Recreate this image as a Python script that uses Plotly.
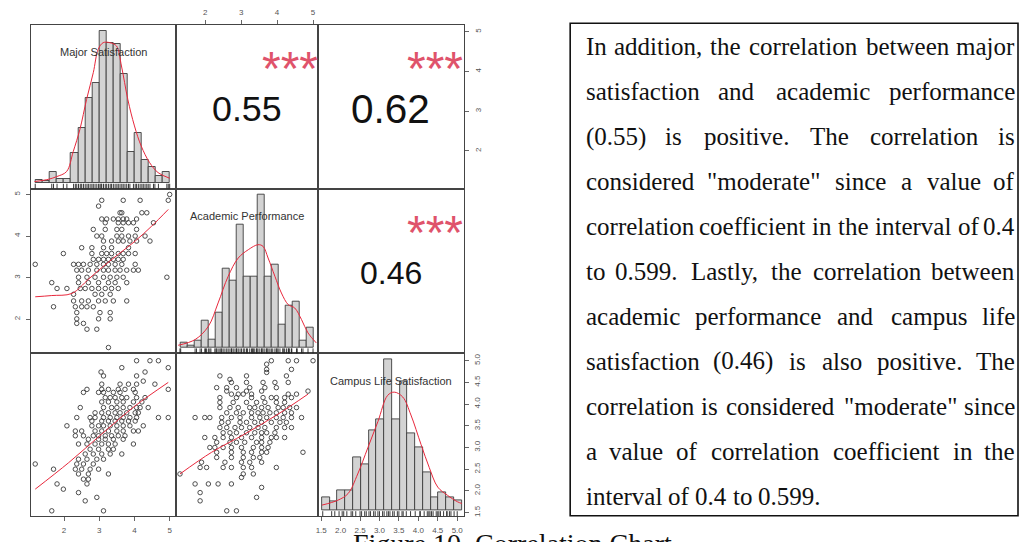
import plotly.graph_objects as go

# ---------------- data ----------------
var_names = ["Major Satisfaction", "Academic Performance", "Campus Life Satisfaction"]
var_ranges = [[1.05, 5.17], [1.18, 5.14], [1.42, 5.17]]

corr_values = [0.55, 0.62, 0.46]          # (MS,AP), (MS,CL), (AP,CL)
corr_signif = ["***", "***", "***"]
corr_font = [35.8, 40.5, 32.0]

# histogram heights (density, scaled) on equal-width bins
major_bin_start, major_bin_width = 1.2, 0.2
major_hist = [0.8, 0.6, 3.3, 1.1, 1.1, 9.0, 16.3, 25.3, 29.8, 45.5, 41.8, 41.6,
              32.6, 9.3, 14.8, 6.8, 4.8, 2.1, 3.3]
major_dens_x = [1.16, 1.56, 1.79, 2.07, 2.26, 2.45, 2.64, 2.83, 2.97, 3.11, 3.30,
                3.49, 3.63, 3.81, 4.00, 4.19, 4.43, 4.67, 5.00]
major_dens_y = [0.3, 1.0, 1.8, 3.3, 9.3, 16.0, 25.0, 33.0, 40.0, 42.0, 42.0,
                41.0, 35.0, 25.0, 17.0, 11.0, 6.0, 3.0, 1.3]

acad_bin_start, acad_bin_width = 1.32, 0.195
acad_hist = [1.3, 0.5, 2.1, 8.0, 2.3, 10.3, 23.5, 20.0, 36.8, 21.3, 21.3, 45.8,
             21.3, 24.8, 6.8, 12.5, 13.8, 2.1, 5.8]
acad_dens_x = [1.25, 1.72, 2.09, 2.36, 2.64, 2.92, 3.20, 3.47, 3.61, 3.75, 3.94,
               4.12, 4.31, 4.49, 4.68, 4.86, 5.09]
acad_dens_y = [0.6, 2.3, 6.3, 13.3, 21.3, 26.8, 29.3, 30.8, 30.3, 26.8, 21.3,
               16.3, 12.8, 11.8, 8.3, 4.3, 1.3]

campus_bin_start, campus_bin_width = 1.52, 0.2
campus_hist = [3.8, 2.8, 6.0, 6.0, 16.0, 13.8, 24.3, 27.8, 46.0, 27.8, 39.3,
               23.5, 19.0, 11.5, 4.0, 5.5, 3.8, 3.0]
campus_dens_x = [1.52, 1.93, 2.19, 2.44, 2.70, 2.96, 3.21, 3.38, 3.60, 3.81,
                 4.07, 4.28, 4.50, 4.75, 5.01, 5.12]
campus_dens_y = [1.5, 3.0, 5.0, 11.0, 19.0, 27.0, 35.0, 36.0, 34.5, 29.0, 20.0,
                 13.0, 7.0, 4.5, 2.5, 2.0]

# scatter points grouped by y value: (y, [x, ...])
ms_ap_rows = [  # x = Major Satisfaction, y = Academic Performance
    (5.00, [5.00]),
    (4.86, [3.07, 3.68, 4.16, 4.96]),
    (4.72, [2.98]),
    (4.56, [3.59, 3.64, 4.21, 4.35]),
    (4.41, [3.07, 3.21, 3.40, 3.54, 3.68, 3.78, 4.06]),
    (4.32, [3.17, 3.54, 3.68, 3.83, 3.97, 4.54]),
    (4.16, [2.83, 3.17, 3.50, 3.64, 4.06]),
    (4.00, [2.93, 3.07, 3.50, 3.64, 3.83, 4.02, 4.30]),
    (3.88, [3.12, 3.35, 3.54, 3.68, 3.87, 4.06, 4.44]),
    (3.72, [2.50, 2.79, 3.12, 3.35, 3.83]),
    (3.58, [1.98, 2.79, 3.07, 3.21, 3.35, 3.54, 3.68, 3.83, 4.02]),
    (3.44, [2.83, 2.98, 3.12, 3.26, 3.40, 3.54, 3.68]),
    (3.32, [1.18, 2.27, 2.41, 2.55, 2.74, 2.93, 3.12, 3.26, 3.45, 3.64, 4.02]),
    (3.18, [2.36, 2.50, 2.69, 2.93, 3.12, 3.26, 3.45, 3.59, 3.78, 3.97, 4.11]),
    (3.01, [2.41, 2.65, 2.88, 3.12, 3.31, 3.50, 3.68, 4.92]),
    (2.88, [1.65, 2.41, 2.69, 2.98, 3.26, 3.45, 3.78]),
    (2.74, [1.80, 2.08, 2.46, 2.60, 2.79, 2.98, 3.17, 3.35, 3.54]),
    (2.60, [2.27, 2.88, 3.07, 3.31]),
    (2.44, [2.27, 2.50, 2.69, 2.98, 3.17, 3.40, 3.78]),
    (2.30, [1.70, 2.32, 2.50, 2.65, 2.83]),
    (2.16, [2.36, 3.02, 3.31]),
    (2.01, [2.36, 2.98, 3.31]),
    (1.90, [2.36, 2.55]),
    (1.76, [2.65, 2.93]),
    (1.32, [3.26]),
]
ms_cl_rows = [  # x = Major Satisfaction, y = Campus Life Satisfaction
    (5.00, [4.06, 4.44, 4.68]),
    (4.84, [3.64, 4.96]),
    (4.74, [3.05, 4.30]),
    (4.65, [3.12, 4.06]),
    (4.53, [4.25]),
    (4.46, [3.07, 3.59, 3.83, 4.06, 4.58]),
    (4.34, [2.65, 3.07, 3.26, 3.54, 3.73, 3.97, 4.96]),
    (4.27, [2.55, 2.98, 3.12, 3.40, 3.59, 4.02]),
    (4.15, [3.17, 3.31, 3.45, 3.64, 3.78, 4.06, 4.30]),
    (4.05, [3.07, 3.26, 3.50, 3.68, 3.97, 4.21]),
    (3.92, [2.46, 3.12, 3.35, 3.50, 3.68, 3.87, 4.06, 4.16, 4.39]),
    (3.80, [2.88, 3.07, 3.26, 3.45, 3.59, 3.78, 4.02, 4.11]),
    (3.69, [2.36, 2.74, 2.88, 3.12, 3.31, 3.50, 3.68, 3.87, 4.06, 4.68, 4.96]),
    (3.61, [2.79, 3.07, 3.26, 3.45, 3.64, 3.83, 4.02]),
    (3.50, [2.08, 2.79, 2.98, 3.12, 3.31, 3.50, 3.68, 3.87, 4.25]),
    (3.38, [2.32, 2.50, 2.88, 3.07, 3.26, 3.50, 3.68, 3.97, 4.11]),
    (3.27, [2.32, 2.55, 2.83, 2.98, 3.17, 3.35, 3.54, 3.73]),
    (3.19, [2.69, 2.98, 3.17, 3.40, 3.68]),
    (3.08, [2.41, 2.65, 2.88, 3.07, 3.26, 3.45, 3.97]),
    (2.96, [2.74, 2.98, 3.26, 3.40]),
    (2.85, [2.60, 2.83, 3.07, 3.31, 3.64]),
    (2.73, [2.41, 2.65, 2.93, 3.12]),
    (2.62, [1.18, 2.36, 2.55, 2.83]),
    (2.50, [1.70, 2.32, 2.50, 2.74, 2.98]),
    (2.39, [2.41, 2.69, 3.26]),
    (2.27, [2.55, 2.69]),
    (2.16, [1.80, 2.65]),
    (2.04, [1.98]),
    (1.96, [2.41]),
    (1.85, [2.93]),
    (1.77, [2.60]),
    (1.54, [1.65, 3.12]),
]
ap_cl_rows = [  # x = Academic Performance, y = Campus Life Satisfaction
    (5.00, [3.84, 4.31, 4.54, 5.00]),
    (4.92, [3.71]),
    (4.80, [3.71, 4.40]),
    (4.73, [3.71]),
    (4.65, [2.41, 3.15, 4.26]),
    (4.57, [2.69]),
    (4.50, [2.73, 3.15, 3.61, 3.94, 4.31]),
    (4.38, [2.32, 2.60, 2.87, 3.24, 3.66, 3.98]),
    (4.30, [2.60, 3.15, 3.57, 4.86]),
    (4.23, [2.73, 2.92, 3.06, 3.29, 4.31, 4.54]),
    (4.15, [2.41, 2.87, 3.29, 3.61, 3.84, 3.98, 4.21, 4.40]),
    (4.04, [2.41, 2.78, 3.15, 3.43, 3.66, 3.98, 4.21]),
    (3.92, [2.41, 2.69, 2.92, 3.24, 3.38, 3.57, 3.75, 4.03, 4.17, 4.35, 4.54]),
    (3.80, [2.60, 2.87, 3.06, 3.29, 3.47, 3.61, 3.80, 3.98, 4.21, 4.40]),
    (3.69, [1.72, 1.99, 2.13, 2.46, 2.73, 2.97, 3.29, 3.52, 3.71, 3.98, 4.17, 4.40, 4.68]),
    (3.58, [2.46, 2.64, 2.97, 3.15, 3.38, 3.57, 3.84, 4.08, 4.26]),
    (3.46, [2.41, 2.60, 2.83, 3.01, 3.24, 3.47, 3.66, 3.98, 4.21, 4.40]),
    (3.34, [2.50, 2.69, 2.87, 3.15, 3.38, 3.57, 3.71, 3.94]),
    (3.23, [1.99, 2.27, 2.50, 2.73, 3.01, 3.29, 3.57, 3.84, 3.98, 4.21]),
    (3.12, [2.32, 2.69, 2.87, 3.10, 3.43, 3.57, 3.80]),
    (3.00, [2.13, 2.27, 2.50, 2.73, 3.01, 3.34, 3.57, 3.75]),
    (2.89, [2.32, 2.73, 3.06, 3.29, 3.57, 3.71, 4.72]),
    (2.77, [2.32, 2.73, 3.06, 3.34, 3.52]),
    (2.66, [1.90, 2.55, 3.01, 3.24, 3.57]),
    (2.54, [1.86, 2.04, 2.50, 2.73, 3.06, 3.29, 3.98]),
    (2.39, [1.30, 3.06, 3.34]),
    (2.31, [3.01]),
    (2.16, [1.72, 2.09, 2.36, 2.73]),
    (2.08, [3.57]),
    (1.96, [1.86]),
    (1.85, [3.43]),
    (1.77, [1.86]),
    (1.54, [2.60, 2.87]),
]

# smoothed trend lines for each scatter panel
ms_ap_smooth_x = [1.18, 1.65, 2.22, 2.69, 3.07, 3.54, 4.02, 4.49, 4.96]
ms_ap_smooth_y = [2.54, 2.57, 2.62, 2.96, 3.24, 3.56, 3.88, 4.24, 4.64]
ms_cl_smooth_x = [1.18, 2.13, 3.07, 4.02, 4.96]
ms_cl_smooth_y = [2.04, 2.65, 3.31, 3.96, 4.50]
ap_cl_smooth_x = [1.30, 2.18, 3.10, 4.03, 4.86]
ap_cl_smooth_y = [2.39, 2.89, 3.31, 3.77, 4.23]

tick_vals_12 = [2, 3, 4, 5]
tick_vals_3 = [1.5, 2.0, 2.5, 3.0, 3.5, 4.0, 4.5, 5.0]

text_lines = [
    "In addition, the correlation between major",
    "satisfaction and academic performance",
    "(0.55) is positive. The correlation is",
    "considered \"moderate\" since a value of",
    "correlation coefficient in the interval of 0.4",
    "to 0.599. Lastly, the correlation between",
    "academic performance and campus life",
    "satisfaction (0.46) is also positive. The",
    "correlation is considered \"moderate\" since",
    "a value of correlation coefficient in the",
    "interval of 0.4 to 0.599.",
]
caption = "Figure 10. Correlation Chart"


def expand(rows):
    xs = [x for _, row in rows for x in row]
    ys = [y for y, row in rows for _ in row]
    return xs, ys


# ---------------- layout helpers ----------------
W, H = 1019, 542
col_px = [28.7, 174.0, 316.7, 462.7]
row_px = [25.0, 189.0, 354.0, 517.0]
SANS = "Liberation Sans, Arial, sans-serif"
SERIF = "Liberation Serif, Times New Roman, serif"
LINE_C = "#444444"
RED = "#e8283c"
STAR_C = "#DF536B"


def xdom(j):
    return [col_px[j] / W, col_px[j + 1] / W]


def ydom(i):
    return [1 - row_px[i + 1] / H, 1 - row_px[i] / H]


def ax_key(k, a):
    return f"{a}axis" if k == 1 else f"{a}axis{k}"


def ax_ref(k, a):
    return a if k == 1 else f"{a}{k}"


fig = go.Figure()
layout = {}
annotations = []
shapes = []

hist_sets = [
    (major_bin_start, major_bin_width, major_hist, major_dens_x, major_dens_y),
    (acad_bin_start, acad_bin_width, acad_hist, acad_dens_x, acad_dens_y),
    (campus_bin_start, campus_bin_width, campus_hist, campus_dens_x, campus_dens_y),
]
ms_ap = expand(ms_ap_rows)
ms_cl = expand(ms_cl_rows)
ap_cl = expand(ap_cl_rows)
rug_vals = [
    sorted(set(ms_ap[0] + ms_cl[0])),
    sorted(set(ms_ap[1] + ap_cl[0])),
    sorted(set(ms_cl[1] + ap_cl[1])),
]
lower = {
    (1, 0): (ms_ap, ms_ap_smooth_x, ms_ap_smooth_y),
    (2, 0): (ms_cl, ms_cl_smooth_x, ms_cl_smooth_y),
    (2, 1): (ap_cl, ap_cl_smooth_x, ap_cl_smooth_y),
}
upper = {(0, 1): 0, (0, 2): 1, (1, 2): 2}

TICKFONT = dict(family=SANS, size=8, color="#555555")


def base_axis(dom, rng, anchor):
    return dict(domain=dom, range=rng, anchor=anchor, showgrid=False, zeroline=False,
                showline=True, mirror=True, linecolor=LINE_C, linewidth=1.2,
                ticks="", showticklabels=False, fixedrange=True)


def add_ticks(ax, side, vals, angle=0):
    labels = [f"{v:g}" if isinstance(v, int) else f"{v:.1f}" for v in vals]
    ax.update(side=side, ticks="outside", ticklen=4, tickwidth=1, tickcolor="#666666",
              tickvals=vals, ticktext=labels, showticklabels=True, tickfont=TICKFONT,
              tickangle=angle, ticklabelstandoff=2)


for i in range(3):
    for j in range(3):
        k = i * 3 + j + 1
        xr, yr = ax_ref(k, "x"), ax_ref(k, "y")
        xa = base_axis(xdom(j), var_ranges[j], yr)
        if i == j:
            start, width, heights, dx, dy = hist_sets[i]
            top = max(heights)
            ya = base_axis(ydom(i), [-0.04 * top, 1.04 * top], xr)
            centers = [start + (b + 0.5) * width for b in range(len(heights))]
            fig.add_trace(go.Bar(x=centers, y=heights, width=width, xaxis=xr, yaxis=yr,
                                 marker=dict(color="#d3d3d3",
                                             line=dict(color="#3c3c3c", width=0.9)),
                                 showlegend=False, hoverinfo="skip"))
            fig.add_trace(go.Scatter(x=dx, y=dy, mode="lines", xaxis=xr, yaxis=yr,
                                     line=dict(color=RED, width=1, shape="spline"),
                                     showlegend=False, hoverinfo="skip"))
            for v in rug_vals[i]:
                shapes.append(dict(type="line", xref=xr, yref=f"{yr} domain",
                                   x0=v, x1=v, y0=0, y1=0.03,
                                   line=dict(color="#222222", width=0.9)))
            annotations.append(dict(text=var_names[i], xref=f"{xr} domain",
                                    yref=f"{yr} domain", x=0.5, y=0.833,
                                    showarrow=False, xanchor="center", yanchor="middle",
                                    font=dict(family=SANS, size=11, color="#333333")))
        else:
            ya = base_axis(ydom(i), var_ranges[i], xr)
            if (i, j) in lower:
                (px, py), sx, sy = lower[(i, j)]
                fig.add_trace(go.Scatter(x=px, y=py, mode="markers", xaxis=xr, yaxis=yr,
                                         marker=dict(symbol="circle-open", size=4.5,
                                                     color="#3a3a3a",
                                                     line=dict(width=0.9)),
                                         showlegend=False, hoverinfo="skip"))
                fig.add_trace(go.Scatter(x=sx, y=sy, mode="lines", xaxis=xr, yaxis=yr,
                                         line=dict(color=RED, width=1, shape="spline"),
                                         showlegend=False, hoverinfo="skip"))
            else:
                c = upper[(i, j)]
                r = corr_values[c]
                fig.add_trace(go.Scatter(x=[None], y=[None], xaxis=xr, yaxis=yr,
                                         showlegend=False, hoverinfo="skip"))
                annotations.append(dict(text=f"{r:.2f}", xref=f"{xr} domain",
                                        yref=f"{yr} domain", x=0.5, y=0.5,
                                        showarrow=False, xanchor="center", yanchor="middle",
                                        yshift=-2,
                                        font=dict(family=SANS, size=corr_font[c],
                                                  color="#111111")))
                annotations.append(dict(text=corr_signif[c], xref=f"{xr} domain",
                                        yref=f"{yr} domain", x=0.8, y=0.8,
                                        showarrow=False, xanchor="center", yanchor="middle",
                                        yshift=-11,
                                        font=dict(family=SANS, size=48, color=STAR_C)))
        # outer axes, alternating sides as in a pairs plot
        if (i, j) == (0, 1):
            add_ticks(xa, "top", tick_vals_12)
        if (i, j) == (2, 0):
            add_ticks(xa, "bottom", tick_vals_12)
        if (i, j) == (2, 2):
            add_ticks(xa, "bottom", tick_vals_3)
        if (i, j) == (1, 0):
            add_ticks(ya, "left", tick_vals_12, angle=-90)
        if (i, j) == (0, 2):
            add_ticks(ya, "right", tick_vals_12, angle=-90)
        layout[ax_key(k, "x")] = xa
        layout[ax_key(k, "y")] = ya

# right-hand axis for the bottom row (campus life scale over the histogram)
ya10 = base_axis(ydom(2), var_ranges[2], "x9")
ya10.update(overlaying="y9", showline=False, mirror=False)
add_ticks(ya10, "right", tick_vals_3, angle=-90)
layout["yaxis10"] = ya10
fig.add_trace(go.Scatter(x=[None], y=[None], xaxis="x9", yaxis="y10",
                         showlegend=False, hoverinfo="skip"))

# ---------------- justified text box ----------------
TIMES_W = {' ': 250, '"': 408, '(': 333, ')': 333, ',': 250, '.': 250,
           'I': 333, 'L': 611, 'T': 611,
           'a': 444, 'b': 500, 'c': 444, 'd': 500, 'e': 444, 'f': 333, 'g': 500,
           'h': 500, 'i': 278, 'j': 278, 'k': 500, 'l': 278, 'm': 778, 'n': 500,
           'o': 500, 'p': 500, 'q': 500, 'r': 333, 's': 389, 't': 278, 'u': 500,
           'v': 500, 'w': 722, 'x': 500, 'y': 500, 'z': 444}
FS = 25
TX0, TX1 = 583.0, 1017.0
LINE0, LINE_STEP = 47.0, 45.0


def text_w(s):
    return sum(TIMES_W.get(ch, 500) for ch in s) * FS / 1000.0


for n, line in enumerate(text_lines):
    words = line.split(" ")
    ypx = LINE0 + n * LINE_STEP
    last = n == len(text_lines) - 1
    widths = [text_w(w) for w in words]
    if last:
        gap = text_w(" ")
    else:
        gap = (TX1 - TX0 - sum(widths)) / (len(words) - 1)
    xpos = TX0
    for m, w in enumerate(words):
        if m == 0:
            xa_, anc = xpos, "left"
        elif m == len(words) - 1 and not last:
            xa_, anc = TX1, "right"
        elif last:
            xa_, anc = xpos, "left"
        else:
            xa_, anc = xpos + widths[m] / 2, "center"
        annotations.append(dict(text=w, xref="paper", yref="paper",
                                x=xa_ / W, y=1 - ypx / H,
                                xanchor=anc, yanchor="middle", showarrow=False,
                                font=dict(family=SERIF, size=FS, color="#111111")))
        xpos += widths[m] + gap

shapes.append(dict(type="rect", xref="paper", yref="paper",
                   x0=569.3 / W, x1=1018.0 / W, y0=1 - 516.7 / H, y1=1 - 23.3 / H,
                   line=dict(color="#111111", width=1.6)))

# figure caption, running past the lower edge of the page
annotations.append(dict(text=caption, xref="paper", yref="paper", x=350 / W,
                        y=1 - 545 / H, xanchor="left", yanchor="middle", showarrow=False,
                        font=dict(family=SERIF, size=28, color="#111111")))

fig.update_layout(width=W, height=H, margin=dict(l=0, r=0, t=0, b=0),
                  paper_bgcolor="white", plot_bgcolor="white", bargap=0,
                  showlegend=False, annotations=annotations, shapes=shapes, **layout)

fig.write_html("out.html")
